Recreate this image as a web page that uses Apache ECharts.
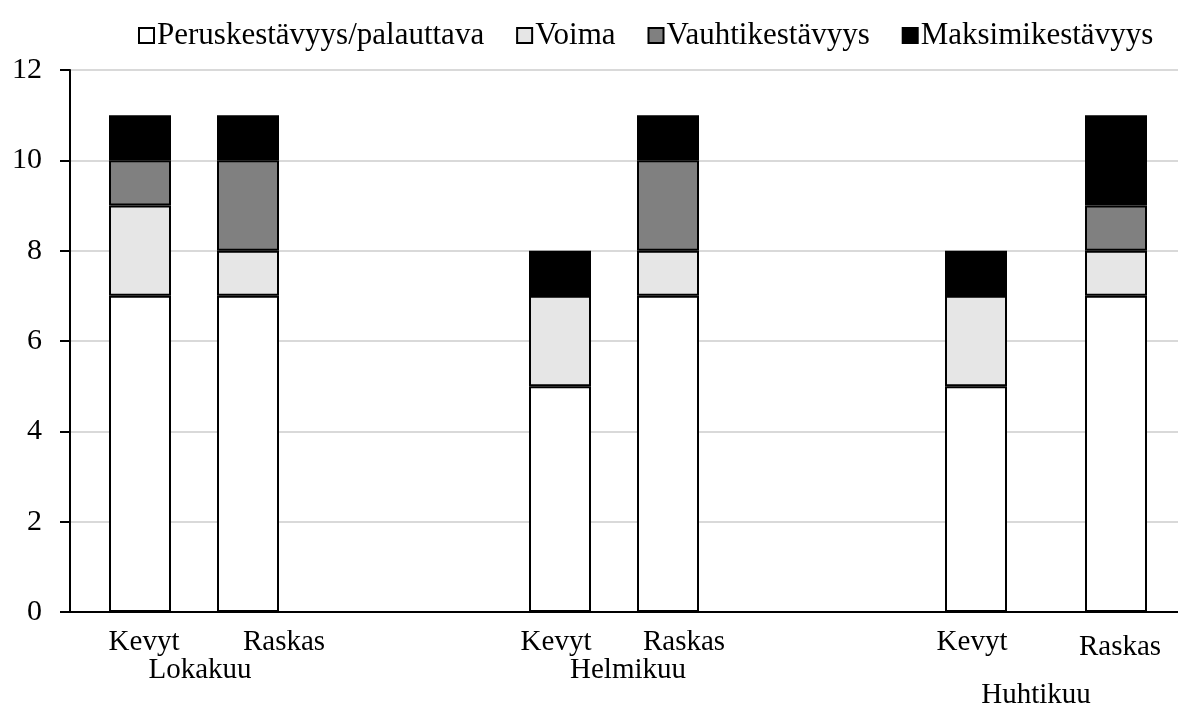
<!DOCTYPE html>
<html>
<head>
<meta charset="utf-8">
<script src="https://cdn.jsdelivr.net/npm/echarts@6/dist/echarts.min.js"></script>
<style>
html,body{margin:0;padding:0;background:#fff;}
#c{width:1178px;height:713px;}
</style>
</head>
<body>
<div id="c"></div>
<script>
// ---- data ----
const seriesNames = ['Peruskestävyys/palauttava', 'Voima', 'Vauhtikestävyys', 'Maksimikestävyys'];
const barLabels = ['Kevyt', 'Raskas', 'Kevyt', 'Raskas', 'Kevyt', 'Raskas'];
const monthLabels = ['Lokakuu', 'Helmikuu', 'Huhtikuu'];
const perus = [7, 7, 5, 7, 5, 7];
const voima = [2, 1, 2, 1, 2, 1];
const vauhti = [1, 2, 0, 2, 0, 1];
const maksimi = [1, 1, 1, 1, 1, 2];
const yTicks = [0, 2, 4, 6, 8, 10, 12];

// ---- layout (fine slot axis to reproduce the irregular spacing) ----
const SLOTS = 277;
const barSlots = [17, 44, 122, 149, 226, 261];
const barLabelSlots = [18, 53, 121, 153, 225, 262];
const monthSlots = [32, 139, 241];
const lowered = {5: 'b'};      // bar label index -> rich style
const monthLowered = {2: 'c'}; // month index -> rich style

const FONT = 'Liberation Serif';
const FS = 29;
const colors = ['#ffffff', '#e6e6e6', '#808080', '#000000'];
const values = [perus, voima, vauhti, maksimi];

const slotCats = Array.from({length: SLOTS}, (_, i) => String(i));
const barLabelMap = {};
barLabelSlots.forEach((s, i) => { barLabelMap[s] = lowered[i] ? '{' + lowered[i] + '|' + barLabels[i] + '}' : barLabels[i]; });
const monthMap = {};
monthSlots.forEach((s, i) => { monthMap[s] = monthLowered[i] ? '{' + monthLowered[i] + '|' + monthLabels[i] + '}' : monthLabels[i]; });

function fullData(arr) {
  const d = new Array(SLOTS).fill(null);
  barSlots.forEach((s, i) => { d[s] = arr[i]; });
  return d;
}

const chart = echarts.init(document.getElementById('c'), null, {renderer: 'canvas'});
const labelRich = {
  b: {fontFamily: FONT, fontSize: FS, color: '#000', padding: [5, 0, 0, 0]},
  c: {fontFamily: FONT, fontSize: FS, color: '#000', padding: [25, 0, 0, 0]}
};
chart.setOption({
  animation: false,
  backgroundColor: '#fff',
  textStyle: {fontFamily: FONT},
  legend: {
    top: 15, left: 133,
    icon: 'rect', itemWidth: 15, itemHeight: 15, itemGap: 32,
    textStyle: {fontFamily: FONT, fontSize: 31, color: '#000', padding: [0, 0, 0, -2]},
    data: seriesNames
  },
  grid: {left: 70, right: 0, top: 70, bottom: 101, containLabel: false, outerBoundsMode: 'none'},
  xAxis: [
    {
      type: 'category', data: slotCats, gridIndex: 0, position: 'bottom',
      boundaryGap: true,
      axisLine: {show: true, lineStyle: {color: '#000', width: 2}},
      axisTick: {show: false}, axisLabel: {show: false}, splitLine: {show: false}
    },
    {
      type: 'category', data: slotCats, gridIndex: 0, position: 'bottom', offset: 0,
      axisLine: {show: false}, axisTick: {show: false}, splitLine: {show: false},
      axisLabel: {
        show: true, interval: 0, margin: 16, fontFamily: FONT, fontSize: FS, color: '#000',
        formatter: (v, i) => barLabelMap[i] || '', rich: labelRich
      }
    },
    {
      type: 'category', data: slotCats, gridIndex: 0, position: 'bottom', offset: 0,
      axisLine: {show: false}, axisTick: {show: false}, splitLine: {show: false},
      axisLabel: {
        show: true, interval: 0, margin: 44, fontFamily: FONT, fontSize: FS, color: '#000',
        formatter: (v, i) => monthMap[i] || '', rich: labelRich
      }
    }
  ],
  yAxis: {
    type: 'value', min: yTicks[0], max: yTicks[yTicks.length - 1], interval: 2,
    axisLine: {show: true, lineStyle: {color: '#000', width: 2}},
    axisTick: {show: true, length: 10, inside: false, lineStyle: {color: '#000', width: 2}},
    axisLabel: {margin: 28, fontFamily: FONT, fontSize: 30, color: '#000'},
    splitLine: {show: true, lineStyle: {color: '#d9d9d9', width: 2}}
  },
  series: seriesNames.map((name, si) => ({
    name: name, type: 'bar', stack: 'total', xAxisIndex: 0,
    barWidth: 62,
    itemStyle: {color: colors[si], borderColor: '#000', borderWidth: 2},
    emphasis: {disabled: true},
    data: fullData(values[si])
  }))
});
</script>
</body>
</html>
